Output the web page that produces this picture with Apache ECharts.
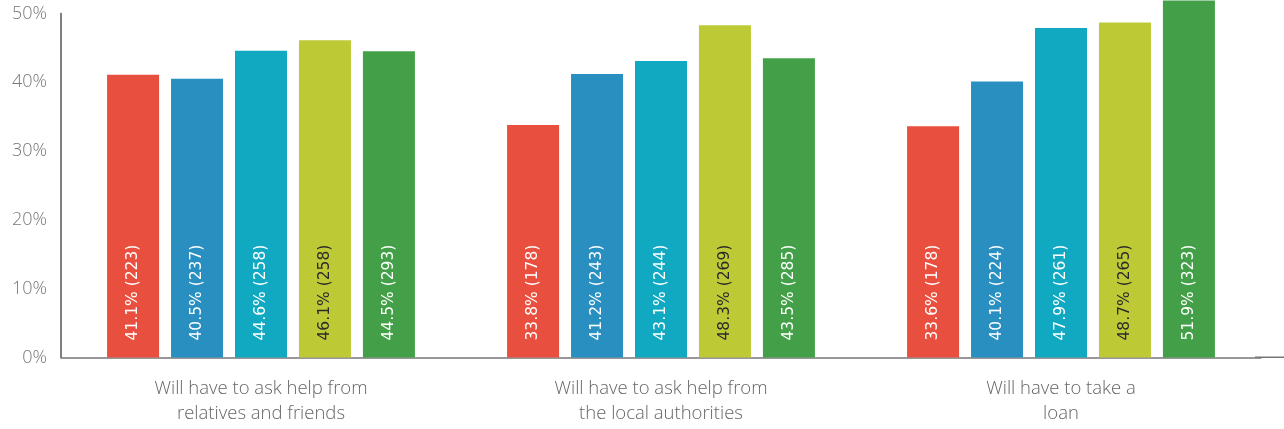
<!DOCTYPE html>
<html>
<head>
<meta charset="utf-8">
<script src="https://cdn.jsdelivr.net/npm/echarts@6/dist/echarts.min.js"></script>
<style>html,body{margin:0;padding:0;background:#fff}#c{width:1284px;height:429px}</style>
</head>
<body>
<div id="c"></div>
<script>
const categories = ['Will have to ask help from\nrelatives and friends', 'Will have to ask help from\nthe local authorities', 'Will have to take a\nloan'];
const yTicks = [0, 10, 20, 30, 40, 50];
const seriesA = [41.1, 33.8, 33.6];
const seriesB = [40.5, 41.2, 40.1];
const seriesC = [44.6, 43.1, 47.9];
const seriesD = [46.1, 48.3, 48.7];
const seriesE = [44.5, 43.5, 51.9];
const countsA = [223, 178, 178];
const countsB = [237, 243, 224];
const countsC = [258, 244, 261];
const countsD = [258, 269, 265];
const countsE = [293, 285, 323];
const colors = ['#E84F3F', '#288FC0', '#10A9C1', '#BDCA35', '#43A048'];
const labelColors = ['#ffffff', '#ffffff', '#ffffff', '#2b2b2b', '#ffffff'];

const FONT = 'DejaVu Sans';
const AXFONT = 'Open Sans';
const allVals = [seriesA, seriesB, seriesC, seriesD, seriesE];
const allCounts = [countsA, countsB, countsC, countsD, countsE];

const series = allVals.map((vals, i) => ({
  type: 'bar',
  data: vals,
  barWidth: 52,
  barGap: '23%',
  clip: false,
  itemStyle: { color: colors[i] },
  label: {
    show: true,
    position: 'insideBottom',
    rotate: 90,
    align: 'left',
    verticalAlign: 'middle',
    distance: 17,
    color: labelColors[i],
    fontFamily: FONT,
    fontSize: 15.5,
    formatter: p => p.value.toFixed(1) + '% (' + allCounts[i][p.dataIndex] + ')'
  }
}));

const chart = echarts.init(document.getElementById('c'), null, { renderer: 'canvas' });
chart.setOption({
  animation: false,
  grid: { left: 61, right: 23, top: 13.5, bottom: 71.5 },
  graphic: [{
    type: 'rect',
    shape: { x: 1255, y: 356.5, width: 29, height: 1.5 },
    style: { fill: '#777' }
  }],
  xAxis: {
    type: 'category',
    data: categories,
    axisLine: { lineStyle: { color: '#777', width: 1.5 } },
    axisTick: { show: false },
    axisLabel: { color: '#666', fontFamily: AXFONT, fontWeight: 300, fontSize: 18.5, lineHeight: 25, margin: 19 }
  },
  yAxis: {
    type: 'value',
    min: yTicks[0],
    max: yTicks[yTicks.length - 1],
    interval: yTicks[1] - yTicks[0],
    axisLine: { show: true, lineStyle: { color: '#555', width: 1.5 } },
    axisTick: { show: false },
    splitLine: { show: false },
    axisLabel: { color: '#777', fontFamily: AXFONT, fontWeight: 300, fontSize: 18, margin: 14, formatter: v => v + '%' }
  },
  series: series
});
</script>
</body>
</html>
